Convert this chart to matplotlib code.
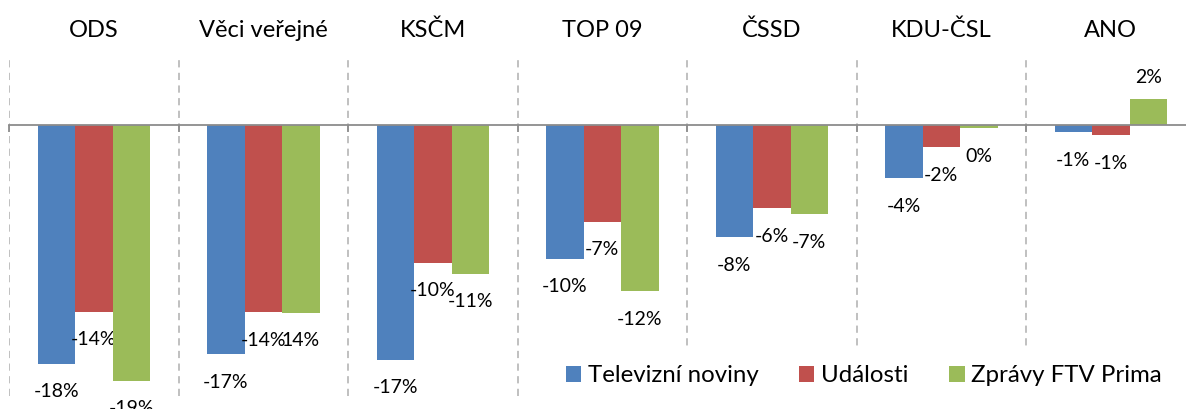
import matplotlib
matplotlib.use('Agg')
import matplotlib.pyplot as plt
import numpy as np

# ---- data ----
parties = ["ODS", "Věci veřejné", "KSČM", "TOP 09", "ČSSD", "KDU-ČSL", "ANO"]
series_names = ["Televizní noviny", "Události", "Zprávy FTV Prima"]
televizni = [-17.66, -16.95, -17.37, -9.91, -8.32, -3.96, -0.57]
udalosti = [-13.80, -13.85, -10.21, -7.16, -6.18, -1.67, -0.79]
prima = [-18.92, -13.90, -11.00, -12.30, -6.62, -0.27, 1.90]
labels_tv = ["-18%", "-17%", "-17%", "-10%", "-8%", "-4%", "-1%"]
labels_ud = ["-14%", "-14%", "-10%", "-7%", "-6%", "-2%", "-1%"]
labels_pr = ["-19%", "14%", "-11%", "-12%", "-7%", "0%", "2%"]
colors = ["#4F81BD", "#C0504D", "#9BBB59"]

plt.rcParams['font.family'] = ['Lato', 'DejaVu Sans']

W, H = 1186, 409
fig = plt.figure(figsize=(W / 100, H / 100), dpi=100)
left_px, top_px = 9.0, 57.0
group_w = 169.5
px_per_unit = 13.55
bottom_px = top_px + 25 * px_per_unit
ax = fig.add_axes([left_px / W, 1 - bottom_px / H, 1 - left_px / W, (bottom_px - top_px) / H])

x = np.arange(len(parties))
bw = 37.5 / group_w
all_vals = [televizni, udalosti, prima]
all_labels = [labels_tv, labels_ud, labels_pr]
containers = []
for k, (vals, labs) in enumerate(zip(all_vals, all_labels)):
    xs = x + (k - 1) * bw
    bc = ax.bar(xs, vals, width=bw, color=colors[k], zorder=3, label=series_names[k])
    containers.append(bc)
    for xi, v, t in zip(xs, vals, labs):
        if v < 0:
            ax.annotate(t, xy=(xi, v), xytext=(0, -24.0), textcoords='offset points',
                        ha='center', va='baseline', fontsize=14, color='black',
                        annotation_clip=False)
        else:
            ax.annotate(t, xy=(xi, v), xytext=(0, 11.7), textcoords='offset points',
                        ha='center', va='baseline', fontsize=14, color='black',
                        annotation_clip=False)

# gridlines at category boundaries
ax.set_xticks(np.arange(-0.5, len(parties) + 0.5, 1))
ax.set_yticks([])
ax.set_xlim(-0.5, -0.5 + (W - left_px) / group_w)
ax.set_ylim(-20, 5)
ax.grid(axis='x', color='#BBBBBB', linestyle=(0, (4.0, 3.0)), linewidth=1.3, zorder=0)
ax.set_axisbelow(True)
for s in ['top', 'left', 'right']:
    ax.spines[s].set_visible(False)
ax.spines['bottom'].set_position(('data', 0))
ax.spines['bottom'].set_color('#8C8C8C')
ax.spines['bottom'].set_linewidth(1.3)
ax.spines['bottom'].set_zorder(4)
ax.tick_params(axis='x', direction='out', length=5.0, width=1.3, color='#8C8C8C',
               labelbottom=False)

for i, name in enumerate(parties):
    ax.annotate(name, xy=(i, 1), xycoords=('data', 'axes fraction'), xytext=(0, 14.4),
                textcoords='offset points', ha='center', va='baseline', fontsize=17,
                color='black', annotation_clip=False)

fs_leg = 17.3
leg = ax.legend(handles=containers, labels=series_names, ncol=3, loc='center left',
                bbox_to_anchor=(546.0 / W, 1 - 376 / H), bbox_transform=fig.transFigure,
                frameon=True, fancybox=False, edgecolor='none', facecolor='white',
                framealpha=1, handlelength=0.625, handleheight=0.625, handletextpad=0.29,
                columnspacing=1.70, borderpad=0.82, borderaxespad=0, fontsize=fs_leg)
leg.set_zorder(10)

fig.savefig('out.png', dpi=100)
